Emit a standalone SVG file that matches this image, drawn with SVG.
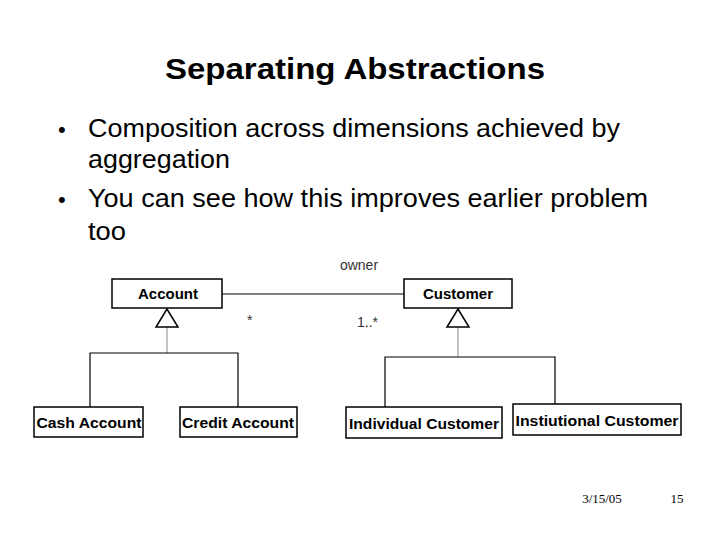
<svg xmlns="http://www.w3.org/2000/svg" width="720" height="540" viewBox="0 0 720 540">
<style>
.box{fill:#fff;stroke:#000;stroke-width:1.5}
.lbl{font-family:"Liberation Sans",Arial,sans-serif;font-size:15px;font-weight:bold;text-anchor:middle}
.ln{stroke:#000;stroke-width:1.2;fill:none}
.gl{stroke:#888;stroke-width:1;fill:none}
.tri{fill:#fff;stroke:#000;stroke-width:1.5}
.sm{font-family:"Liberation Sans",Arial,sans-serif;font-size:14px;fill:#333}
.body{font-family:"Liberation Sans",Arial,sans-serif;font-size:25px}
</style>
<rect width="720" height="540" fill="#fff"/>
<text x="165" y="79" font-family="Liberation Sans,Arial,sans-serif" font-size="30" font-weight="bold" textLength="380" lengthAdjust="spacingAndGlyphs">Separating Abstractions</text>
<g class="body">
<text x="58" y="137" font-size="22">•</text><text x="88" y="137" textLength="532" lengthAdjust="spacingAndGlyphs">Composition across dimensions achieved by</text>
<text x="88" y="168" textLength="142" lengthAdjust="spacingAndGlyphs">aggregation</text>
<text x="58" y="207" font-size="22">•</text><text x="88" y="207" textLength="560" lengthAdjust="spacingAndGlyphs">You can see how this improves earlier problem</text>
<text x="88" y="240" textLength="38" lengthAdjust="spacingAndGlyphs">too</text>
</g>
<g id="connectors">
<line class="ln" x1="222" y1="294" x2="404" y2="294"/>
<line class="gl" x1="167" y1="327" x2="167" y2="353"/>
<polyline class="ln" points="90,407 90,353 238,353 238,407"/>
<polygon class="tri" points="167,309 156,327 178,327"/>
<line class="gl" x1="458" y1="327" x2="458" y2="357"/>
<polyline class="ln" points="385,407 385,357 555,357 555,404"/>
<polygon class="tri" points="458,309 447,327 469,327"/>
<text class="sm" x="359" y="270" text-anchor="middle">owner</text>
<text class="sm" x="247" y="325">*</text>
<text class="sm" x="357" y="327">1..*</text>
</g>
<g id="account"><rect class="box" x="112" y="279" width="110" height="29"/><text class="lbl" x="168" y="299">Account</text></g>
<g id="customer"><rect class="box" x="404" y="279" width="108" height="29"/><text class="lbl" x="458" y="299">Customer</text></g>
<g id="cash"><rect class="box" x="34" y="407" width="109" height="30"/><text class="lbl" x="89" y="428" textLength="105" lengthAdjust="spacingAndGlyphs">Cash Account</text></g>
<g id="credit"><rect class="box" x="180" y="407" width="117" height="30"/><text class="lbl" x="238" y="428" textLength="112" lengthAdjust="spacingAndGlyphs">Credit Account</text></g>
<g id="individual"><rect class="box" x="346" y="407" width="156" height="31"/><text class="lbl" x="424" y="429" textLength="150" lengthAdjust="spacingAndGlyphs">Individual Customer</text></g>
<g id="inst"><rect class="box" x="513" y="404" width="168" height="31"/><text class="lbl" x="597" y="426" textLength="163" lengthAdjust="spacingAndGlyphs">Instiutional Customer</text></g>
<text x="602" y="503" text-anchor="middle" font-family="Liberation Serif,serif" font-size="13">3/15/05</text>
<text x="677" y="503" text-anchor="middle" font-family="Liberation Serif,serif" font-size="13">15</text>
</svg>
